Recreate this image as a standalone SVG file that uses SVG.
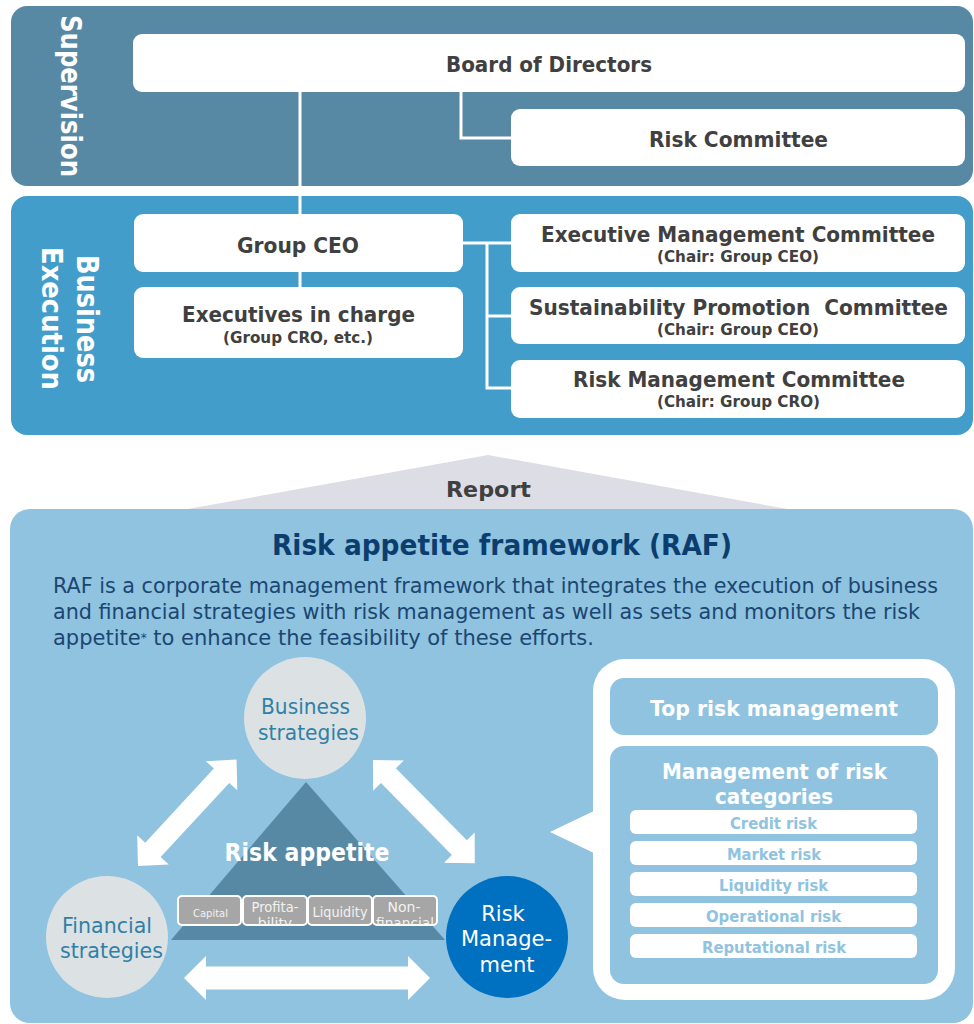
<svg xmlns="http://www.w3.org/2000/svg" width="974" height="1024" viewBox="0 0 974 1024">
<style>
text{font-family:"DejaVu Sans","Liberation Sans",sans-serif}
.box{fill:#ffffff}
.dk{fill:#404040;font-weight:bold;text-anchor:middle}
.sub{fill:#404040;font-weight:bold;text-anchor:middle;font-size:15px}
.conn{fill:none;stroke:#ffffff;stroke-width:3}
.circ{fill:#DCE2E3}
.ct{fill:#2F80A7;font-size:21px;text-anchor:middle}
.wt{fill:#ffffff;font-weight:bold;text-anchor:middle}
.rb{fill:#ffffff}
.rt{fill:#8FC3DF;font-weight:bold;font-size:16px;text-anchor:middle}
.sb{fill:#A6A6A6;stroke:#ffffff;stroke-width:2}
.st{fill:#F2F2F2;text-anchor:middle}
.arr{fill:#ffffff}
</style>
<defs>
<clipPath id="cpP"><rect x="243" y="896" width="64" height="29" rx="4"/></clipPath>
<clipPath id="cpN"><rect x="373" y="896" width="64" height="29" rx="4"/></clipPath>
</defs>

<g id="panel-supervision">
<rect x="11" y="6" width="962" height="180" rx="16" fill="#5889A4"/>
<text transform="translate(61,96) rotate(90)" font-size="28" font-weight="bold" fill="#ffffff" text-anchor="middle" textLength="162" lengthAdjust="spacingAndGlyphs">Supervision</text>
</g>
<g id="panel-execution">
<rect x="11" y="196" width="962" height="239" rx="16" fill="#439DCA"/>
<text transform="translate(77,319) rotate(90)" font-size="30" font-weight="bold" fill="#ffffff" text-anchor="middle" textLength="128" lengthAdjust="spacingAndGlyphs">Business</text>
<text transform="translate(42,318.5) rotate(90)" font-size="29" font-weight="bold" fill="#ffffff" text-anchor="middle" textLength="143" lengthAdjust="spacingAndGlyphs">Execution</text>
</g>

<g id="connectors">
<polyline class="conn" points="300,92 300,214"/>
<polyline class="conn" points="300,272 300,287"/>
<polyline class="conn" points="461,92 461,138 511,138"/>
<polyline class="conn" points="463,243 511,243"/>
<polyline class="conn" points="487,243 487,388 511,388"/>
<polyline class="conn" points="487,316 511,316"/>
</g>

<g id="board">
<rect class="box" x="133" y="34" width="832" height="58" rx="9"/>
<text class="dk" x="549" y="72" font-size="22" textLength="206" lengthAdjust="spacingAndGlyphs">Board of Directors</text>
</g>
<g id="risk-committee">
<rect class="box" x="511" y="109" width="454" height="57" rx="9"/>
<text class="dk" x="738.5" y="147" font-size="22" textLength="179" lengthAdjust="spacingAndGlyphs">Risk Committee</text>
</g>
<g id="group-ceo">
<rect class="box" x="134" y="214" width="329" height="58" rx="9"/>
<text class="dk" x="298" y="253" font-size="22" textLength="122" lengthAdjust="spacingAndGlyphs">Group CEO</text>
</g>
<g id="executives">
<rect class="box" x="134" y="287" width="329" height="71" rx="9"/>
<text class="dk" x="298.5" y="322" font-size="22" textLength="233" lengthAdjust="spacingAndGlyphs">Executives in charge</text>
<text class="sub" x="298" y="343" textLength="150" lengthAdjust="spacingAndGlyphs">(Group CRO, etc.)</text>
</g>
<g id="emc">
<rect class="box" x="511" y="214" width="454" height="58" rx="9"/>
<text class="dk" x="738" y="242" font-size="22" textLength="394" lengthAdjust="spacingAndGlyphs">Executive Management Committee</text>
<text class="sub" x="738" y="262" textLength="162" lengthAdjust="spacingAndGlyphs">(Chair: Group CEO)</text>
</g>
<g id="spc">
<rect class="box" x="511" y="287" width="454" height="57" rx="9"/>
<text class="dk" x="738.5" y="315" font-size="21" textLength="419" lengthAdjust="spacingAndGlyphs" xml:space="preserve">Sustainability Promotion  Committee</text>
<text class="sub" x="738" y="335" textLength="162" lengthAdjust="spacingAndGlyphs">(Chair: Group CEO)</text>
</g>
<g id="rmc">
<rect class="box" x="511" y="360" width="454" height="58" rx="9"/>
<text class="dk" x="739" y="387" font-size="22" textLength="332" lengthAdjust="spacingAndGlyphs">Risk Management Committee</text>
<text class="sub" x="738.5" y="407" textLength="163" lengthAdjust="spacingAndGlyphs">(Chair: Group CRO)</text>
</g>

<g id="report">
<polygon points="488,455 160,514 815,514" fill="#DDDDE5"/>
<text class="dk" x="488.5" y="497" font-size="22" textLength="85" lengthAdjust="spacingAndGlyphs">Report</text>
</g>

<g id="raf-panel">
<rect x="10" y="509" width="963" height="514" rx="20" fill="#8FC3DF"/>
<text x="502" y="555" font-size="28" font-weight="bold" fill="#0B3E6F" text-anchor="middle" textLength="460" lengthAdjust="spacingAndGlyphs">Risk appetite framework (RAF)</text>
<text x="53" y="593" font-size="21" fill="#1B4672" textLength="885" lengthAdjust="spacingAndGlyphs">RAF is a corporate management framework that integrates the execution of business</text>
<text x="53" y="619" font-size="21" fill="#1B4672" textLength="867" lengthAdjust="spacingAndGlyphs">and financial strategies with risk management as well as sets and monitors the risk</text>
<text x="53" y="645" font-size="21" fill="#1B4672">appetite<tspan font-size="12" dy="-3">*</tspan><tspan dy="3"> to enhance the feasibility of these efforts.</tspan></text>
</g>

<g id="risk-appetite">
<polygon points="306,782 171,940 445,940" fill="#5889A4"/>
<text class="wt" x="307" y="861" font-size="25" textLength="165" lengthAdjust="spacingAndGlyphs">Risk appetite</text>
</g>
<g id="cat-capital">
<rect class="sb" x="178" y="896" width="63" height="29" rx="4"/>
<text class="st" x="210.5" y="917" font-size="11" textLength="35" lengthAdjust="spacingAndGlyphs">Capital</text>
</g>
<g id="cat-profitability">
<rect class="sb" x="243" y="896" width="64" height="29" rx="4"/>
<g clip-path="url(#cpP)">
<text class="st" x="275" y="911.5" font-size="14" textLength="47" lengthAdjust="spacingAndGlyphs">Profita-</text>
<text class="st" x="275" y="927.5" font-size="14">bility</text>
</g>
</g>
<g id="cat-liquidity">
<rect class="sb" x="308" y="896" width="64" height="29" rx="4"/>
<text class="st" x="340" y="917" font-size="14" textLength="55" lengthAdjust="spacingAndGlyphs">Liquidity</text>
</g>
<g id="cat-nonfinancial">
<rect class="sb" x="373" y="896" width="64" height="29" rx="4"/>
<g clip-path="url(#cpN)">
<text class="st" x="404" y="911.5" font-size="14">Non-</text>
<text class="st" x="405" y="927.5" font-size="14" textLength="58" lengthAdjust="spacingAndGlyphs">financial</text>
</g>
</g>

<g id="business-strategies">
<circle class="circ" cx="305" cy="718" r="61"/>
<text class="ct" x="305.5" y="714" textLength="89" lengthAdjust="spacingAndGlyphs">Business</text>
<text class="ct" x="308.5" y="740" textLength="101" lengthAdjust="spacingAndGlyphs">strategies</text>
</g>
<g id="financial-strategies">
<circle class="circ" cx="107" cy="937" r="61"/>
<text class="ct" x="107" y="933" textLength="90" lengthAdjust="spacingAndGlyphs">Financial</text>
<text class="ct" x="111.5" y="958" textLength="103" lengthAdjust="spacingAndGlyphs">strategies</text>
</g>
<g id="risk-management">
<circle cx="507" cy="937" r="61" fill="#0070C0"/>
<text x="503" y="921" font-size="21" fill="#ffffff" text-anchor="middle">Risk</text>
<text x="506.5" y="946" font-size="21" fill="#ffffff" text-anchor="middle" textLength="91" lengthAdjust="spacingAndGlyphs">Manage-</text>
<text x="507" y="972" font-size="21" fill="#ffffff" text-anchor="middle">ment</text>
</g>

<g id="arrows">
<polygon class="arr" transform="translate(138,866) rotate(-47.2)" points="0,0 22,-21.5 22,-10.5 123,-10.5 123,-21.5 145,0 123,21.5 123,10.5 22,10.5 22,21.5"/>
<polygon class="arr" transform="translate(373,760) rotate(45.4)" points="0,0 22,-21.5 22,-10.5 123,-10.5 123,-21.5 145,0 123,21.5 123,10.5 22,10.5 22,21.5"/>
<polygon class="arr" points="184,978 206,956 206,966.5 408,966.5 408,956 430,978 408,1000 408,989.5 206,989.5 206,1000"/>
</g>

<g id="risk-management-detail">
<rect x="593" y="659" width="362" height="341" rx="32" fill="#ffffff"/>
<polygon points="550,832 596,810 596,854" fill="#ffffff"/>
<rect x="610" y="678" width="328" height="57" rx="14" fill="#8FC3DF"/>
<text class="wt" x="774" y="716" font-size="22" textLength="248" lengthAdjust="spacingAndGlyphs">Top risk management</text>
<rect x="610" y="746" width="328" height="238" rx="14" fill="#8FC3DF"/>
<text class="wt" x="774.5" y="779" font-size="22" textLength="225" lengthAdjust="spacingAndGlyphs">Management of risk</text>
<text class="wt" x="774" y="804" font-size="22" textLength="118" lengthAdjust="spacingAndGlyphs">categories</text>
<rect class="rb" x="630" y="810" width="287" height="24" rx="6"/>
<text class="rt" x="773.5" y="829" textLength="87" lengthAdjust="spacingAndGlyphs">Credit risk</text>
<rect class="rb" x="630" y="841" width="287" height="24" rx="6"/>
<text class="rt" x="774" y="860" textLength="94" lengthAdjust="spacingAndGlyphs">Market risk</text>
<rect class="rb" x="630" y="872" width="287" height="24" rx="6"/>
<text class="rt" x="773.5" y="891" textLength="109" lengthAdjust="spacingAndGlyphs">Liquidity risk</text>
<rect class="rb" x="630" y="903" width="287" height="24" rx="6"/>
<text class="rt" x="773.5" y="922" textLength="135" lengthAdjust="spacingAndGlyphs">Operational risk</text>
<rect class="rb" x="630" y="934" width="287" height="24" rx="6"/>
<text class="rt" x="774" y="953" textLength="144" lengthAdjust="spacingAndGlyphs">Reputational risk</text>
</g>
</svg>
